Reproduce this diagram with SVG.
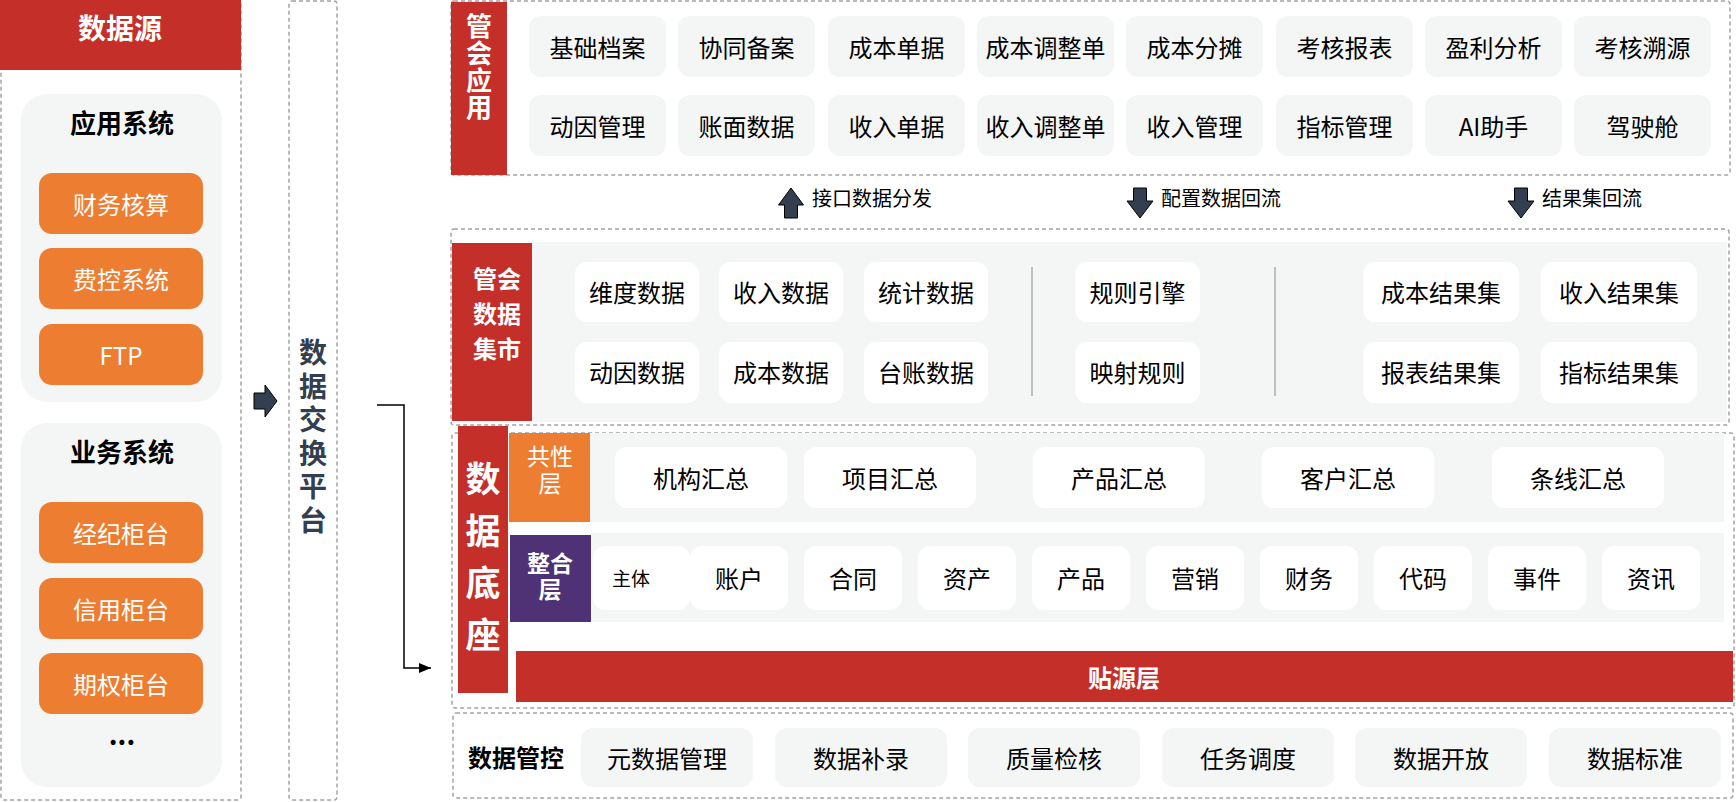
<svg xmlns="http://www.w3.org/2000/svg" width="1736" height="802" viewBox="0 0 1736 802">
<defs>
<style>
.dash{fill:none;stroke:#a3a3a3;stroke-width:1.5;stroke-dasharray:4 3}
.red{fill:#c42f2a}
.org{fill:#ed7d31}
.pur{fill:#4f3275}
.gray{fill:#f4f6f5}
.wc{fill:#ffffff}
.t{font-family:"Noto Sans CJK SC","Noto Sans",sans-serif;text-anchor:middle;dominant-baseline:central}
.v{font-family:"Noto Sans CJK SC","Noto Sans",sans-serif;text-anchor:middle;writing-mode:vertical-rl;font-weight:bold}
.k{fill:#000000}
.w{fill:#ffffff}
.b{font-weight:bold}
.s24{font-size:24px}
.blk{fill:#333f50;stroke:#000;stroke-width:1}
.lbl{font-family:"Noto Sans CJK SC","Noto Sans",sans-serif;font-size:20px;fill:#000;dominant-baseline:central}
</style>
<marker id="ah" viewBox="0 0 12 10" refX="12" refY="5" markerWidth="12" markerHeight="10" markerUnits="userSpaceOnUse" orient="auto">
<path d="M0,0 L12,5 L0,10 z" fill="#000"/>
</marker>
</defs>
<rect width="1736" height="802" fill="#ffffff"/>

<!-- Data source -->
<g id="datasource">
<rect class="dash" x="1" y="1" width="240" height="799" rx="3"/>
<rect class="red" x="0" y="0" width="241" height="70"/>
<text class="t w b" x="120" y="27" font-size="28">数据源</text>
</g>
<g id="app-systems">
<rect class="gray" x="21" y="94" width="201" height="308" rx="26"/>
<text class="t k b" x="122" y="121" font-size="26">应用系统</text>
<rect class="org" x="39" y="173" width="164" height="61" rx="13"/>
<text class="t w s24" x="121" y="203.5">财务核算</text>
<rect class="org" x="39" y="248" width="164" height="61" rx="13"/>
<text class="t w s24" x="121" y="278.5">费控系统</text>
<rect class="org" x="39" y="324" width="164" height="61" rx="13"/>
<text class="t w s24" x="121" y="354.5">FTP</text>
</g>
<g id="biz-systems">
<rect class="gray" x="21" y="423" width="201" height="364" rx="26"/>
<text class="t k b" x="122" y="450" font-size="26">业务系统</text>
<rect class="org" x="39" y="502" width="164" height="61" rx="13"/>
<text class="t w s24" x="121" y="532.5">经纪柜台</text>
<rect class="org" x="39" y="578" width="164" height="61" rx="13"/>
<text class="t w s24" x="121" y="608.5">信用柜台</text>
<rect class="org" x="39" y="653" width="164" height="61" rx="13"/>
<text class="t w s24" x="121" y="683.5">期权柜台</text>
<text class="t k b" x="122" y="733" font-size="27">...</text>
</g>

<!-- Exchange platform -->
<g id="exchange">
<rect class="dash" x="289" y="1" width="48" height="799" rx="3"/>
<text class="v" x="313" y="439" font-size="28" letter-spacing="5.5" fill="#333f50">数据交换平台</text>
</g>

<!-- 管会应用 -->
<g id="mgmt-app">
<rect class="dash" x="451" y="1" width="1279" height="174" rx="3"/>
<rect class="red" x="451" y="2" width="56" height="173"/>
<text class="v w" x="479" y="67" font-size="26" letter-spacing="1">管会应用</text>
<g class="gray">
<rect x="529" y="16" width="137" height="61" rx="12"/>
<rect x="678" y="16" width="137" height="61" rx="12"/>
<rect x="828" y="16" width="137" height="61" rx="12"/>
<rect x="977" y="16" width="137" height="61" rx="12"/>
<rect x="1126" y="16" width="137" height="61" rx="12"/>
<rect x="1276" y="16" width="137" height="61" rx="12"/>
<rect x="1425" y="16" width="137" height="61" rx="12"/>
<rect x="1574" y="16" width="137" height="61" rx="12"/>
<rect x="529" y="95" width="137" height="61" rx="12"/>
<rect x="678" y="95" width="137" height="61" rx="12"/>
<rect x="828" y="95" width="137" height="61" rx="12"/>
<rect x="977" y="95" width="137" height="61" rx="12"/>
<rect x="1126" y="95" width="137" height="61" rx="12"/>
<rect x="1276" y="95" width="137" height="61" rx="12"/>
<rect x="1425" y="95" width="137" height="61" rx="12"/>
<rect x="1574" y="95" width="137" height="61" rx="12"/>
</g>
<g class="t k s24">
<text x="597.5" y="46">基础档案</text>
<text x="746.5" y="46">协同备案</text>
<text x="896.5" y="46">成本单据</text>
<text x="1045.5" y="46">成本调整单</text>
<text x="1194.5" y="46">成本分摊</text>
<text x="1344.5" y="46">考核报表</text>
<text x="1493.5" y="46">盈利分析</text>
<text x="1642.5" y="46">考核溯源</text>
<text x="597.5" y="125">动因管理</text>
<text x="746.5" y="125">账面数据</text>
<text x="896.5" y="125">收入单据</text>
<text x="1045.5" y="125">收入调整单</text>
<text x="1194.5" y="125">收入管理</text>
<text x="1344.5" y="125">指标管理</text>
<text x="1493.5" y="125">AI助手</text>
<text x="1642.5" y="125">驾驶舱</text>
</g>
</g>

<!-- 管会数据集市 -->
<g id="data-mart">
<rect class="dash" x="451" y="229" width="1278" height="196" rx="3"/>
<rect class="gray" x="532" y="242" width="1195" height="180"/>
<rect class="red" x="452" y="243" width="80" height="178"/>
<text class="t w b" font-size="24"><tspan x="497" y="277">管会</tspan><tspan x="497" y="312">数据</tspan><tspan x="497" y="347">集市</tspan></text>
<g class="wc">
<rect x="575" y="262" width="124" height="60" rx="12"/>
<rect x="719" y="262" width="124" height="60" rx="12"/>
<rect x="864" y="262" width="124" height="60" rx="12"/>
<rect x="575" y="342" width="124" height="61" rx="12"/>
<rect x="719" y="342" width="124" height="61" rx="12"/>
<rect x="864" y="342" width="124" height="61" rx="12"/>
<rect x="1075" y="262" width="125" height="60" rx="12"/>
<rect x="1075" y="342" width="125" height="61" rx="12"/>
<rect x="1363" y="262" width="156" height="60" rx="12"/>
<rect x="1541" y="262" width="156" height="60" rx="12"/>
<rect x="1363" y="342" width="156" height="61" rx="12"/>
<rect x="1541" y="342" width="156" height="61" rx="12"/>
</g>
<line x1="1032" y1="267" x2="1032" y2="396" stroke="#bfbfbf" stroke-width="2"/>
<line x1="1275" y1="267" x2="1275" y2="396" stroke="#bfbfbf" stroke-width="2"/>
<g class="t k s24">
<text x="637" y="291">维度数据</text>
<text x="781" y="291">收入数据</text>
<text x="926" y="291">统计数据</text>
<text x="637" y="371.5">动因数据</text>
<text x="781" y="371.5">成本数据</text>
<text x="926" y="371.5">台账数据</text>
<text x="1137.5" y="291">规则引擎</text>
<text x="1137.5" y="371.5">映射规则</text>
<text x="1441" y="291">成本结果集</text>
<text x="1619" y="291">收入结果集</text>
<text x="1441" y="371.5">报表结果集</text>
<text x="1619" y="371.5">指标结果集</text>
</g>
</g>

<!-- 数据底座 -->
<g id="data-base">
<rect class="dash" x="452" y="433" width="1282" height="275" rx="3"/>
<rect class="red" x="458" y="426" width="50" height="267"/>
<text class="v w" x="483" y="565" font-size="35" letter-spacing="17">数据底座</text>
</g>
<g id="common-layer">
<rect class="gray" x="590" y="433" width="1134" height="89"/>
<rect class="org" x="509" y="433" width="81" height="89"/>
<text class="t w" font-size="23"><tspan x="550" y="455">共性</tspan><tspan x="550" y="482">层</tspan></text>
<g class="wc">
<rect x="615" y="447" width="172" height="61" rx="12"/>
<rect x="804" y="447" width="172" height="61" rx="12"/>
<rect x="1033" y="447" width="172" height="61" rx="12"/>
<rect x="1262" y="447" width="172" height="61" rx="12"/>
<rect x="1492" y="447" width="172" height="61" rx="12"/>
</g>
<g class="t k s24">
<text x="701" y="477">机构汇总</text>
<text x="890" y="477">项目汇总</text>
<text x="1119" y="477">产品汇总</text>
<text x="1348" y="477">客户汇总</text>
<text x="1578" y="477">条线汇总</text>
</g>
</g>
<g id="integration-layer">
<rect class="gray" x="591" y="533" width="1133" height="89"/>
<rect class="pur" x="510" y="535" width="81" height="87"/>
<text class="t w b" font-size="23"><tspan x="550" y="562">整合</tspan><tspan x="550" y="588">层</tspan></text>
<g class="wc">
<rect x="593" y="546" width="97" height="64" rx="12"/>
<rect x="690" y="546" width="98" height="64" rx="12"/>
<rect x="804" y="546" width="98" height="64" rx="12"/>
<rect x="918" y="546" width="98" height="64" rx="12"/>
<rect x="1032" y="546" width="98" height="64" rx="12"/>
<rect x="1146" y="546" width="98" height="64" rx="12"/>
<rect x="1260" y="546" width="98" height="64" rx="12"/>
<rect x="1374" y="546" width="98" height="64" rx="12"/>
<rect x="1488" y="546" width="98" height="64" rx="12"/>
<rect x="1602" y="546" width="98" height="64" rx="12"/>
</g>
<text class="t k" x="631" y="577" font-size="19">主体</text>
<g class="t k s24">
<text x="739" y="577">账户</text>
<text x="853" y="577">合同</text>
<text x="967" y="577">资产</text>
<text x="1081" y="577">产品</text>
<text x="1195" y="577">营销</text>
<text x="1309" y="577">财务</text>
<text x="1423" y="577">代码</text>
<text x="1537" y="577">事件</text>
<text x="1651" y="577">资讯</text>
</g>
</g>
<g id="source-layer">
<rect class="red" x="516" y="651" width="1217" height="51"/>
<text class="t w b s24" x="1124" y="676">贴源层</text>
</g>

<!-- 数据管控 -->
<g id="data-governance">
<rect class="dash" x="453" y="713" width="1280" height="85" rx="3"/>
<text class="t k b s24" x="516" y="756">数据管控</text>
<g class="gray">
<rect x="581" y="728" width="172" height="59" rx="12"/>
<rect x="775" y="728" width="172" height="59" rx="12"/>
<rect x="968" y="728" width="172" height="59" rx="12"/>
<rect x="1162" y="728" width="172" height="59" rx="12"/>
<rect x="1355" y="728" width="172" height="59" rx="12"/>
<rect x="1549" y="728" width="172" height="59" rx="12"/>
</g>
<g class="t k s24">
<text x="667" y="757">元数据管理</text>
<text x="861" y="757">数据补录</text>
<text x="1054" y="757">质量检核</text>
<text x="1248" y="757">任务调度</text>
<text x="1441" y="757">数据开放</text>
<text x="1635" y="757">数据标准</text>
</g>
</g>

<!-- Connectors -->
<g id="connectors">
<polygon class="blk" points="254,393 265,393 265,385 277,401 265,417 265,409 254,409"/>
<path d="M377,405 H404 V668 H431" fill="none" stroke="#000" stroke-width="1.5" marker-end="url(#ah)"/>
<polygon class="blk" points="791,188 803.5,205 797.5,205 797.5,218 784.5,218 784.5,205 778.5,205"/>
<text class="lbl" x="812" y="197">接口数据分发</text>
<polygon class="blk" points="1133.5,188 1146.5,188 1146.5,201 1153,201 1140,218 1127,201 1133.5,201"/>
<text class="lbl" x="1161" y="197">配置数据回流</text>
<polygon class="blk" points="1514.5,188 1527.5,188 1527.5,201 1534,201 1521,218 1508,201 1514.5,201"/>
<text class="lbl" x="1542" y="197">结果集回流</text>
</g>
</svg>
